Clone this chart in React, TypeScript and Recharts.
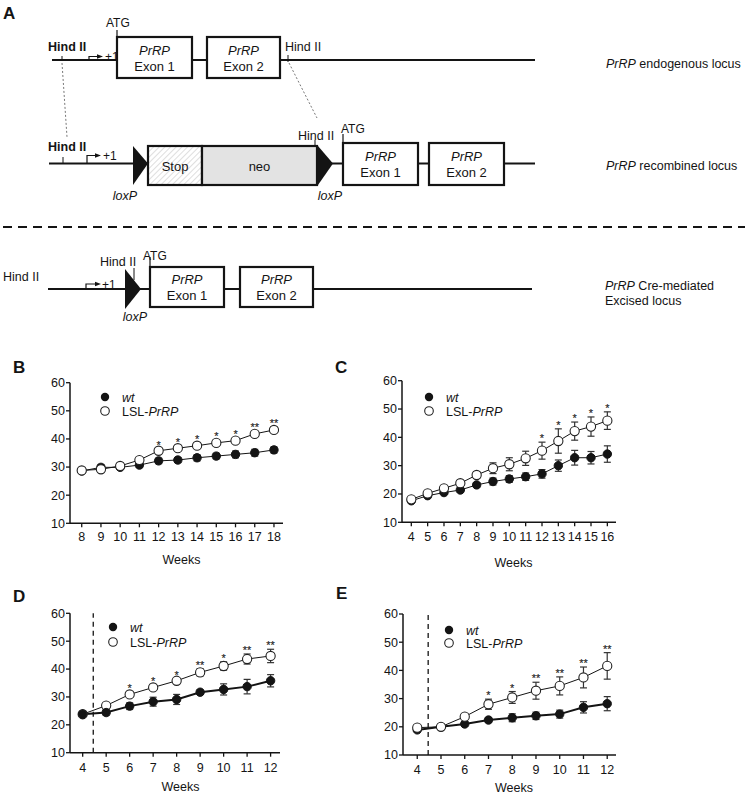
import React from "react"
import { LineChart, Line, XAxis, YAxis, ErrorBar, ReferenceLine, LabelList } from "recharts"

const FONT = "'Liberation Sans', Arial, Helvetica, sans-serif"
const INK = "#141414"

// B
const weeksB = [8, 9, 10, 11, 12, 13, 14, 15, 16, 17, 18]
const wtB = [28.6, 29.9, 29.9, 30.7, 32.2, 32.5, 33.3, 33.9, 34.5, 35.1, 36.1]
const wtErrB = [0.6, 1.0, 0.7, 0.9, 1.0, 0.9, 1.1, 1.0, 1.2, 1.2, 1.1]
const lslB = [28.8, 29.2, 30.4, 32.5, 35.8, 36.7, 37.6, 38.6, 39.4, 41.8, 43.2]
const lslErrB = [0.5, 0.6, 0.6, 0.7, 0.8, 0.8, 0.9, 1.0, 0.9, 0.9, 0.9]
const sigB = ["", "", "", "", "*", "*", "*", "*", "*", "**", "**"]

// C
const weeksC = [4, 5, 6, 7, 8, 9, 10, 11, 12, 13, 14, 15, 16]
const wtC = [17.6, 19.4, 20.5, 21.4, 23.2, 24.4, 25.3, 26.1, 27.1, 30.0, 32.8, 32.8, 34.1]
const wtErrC = [0.5, 0.6, 0.6, 0.7, 0.8, 1.2, 1.2, 1.3, 1.5, 2.0, 2.6, 2.2, 2.9]
const lslC = [18.1, 20.2, 22.0, 23.8, 26.7, 29.1, 30.5, 32.6, 35.3, 38.7, 42.2, 43.8, 45.9]
const lslErrC = [0.5, 0.6, 0.6, 0.8, 1.2, 1.9, 2.3, 2.5, 3.0, 4.3, 3.2, 3.4, 3.1]
const sigC = ["", "", "", "", "", "", "", "", "*", "*", "*", "*", "*"]

// D
const weeksD = [4, 5, 6, 7, 8, 9, 10, 11, 12]
const wtD = [23.8, 24.4, 26.7, 28.3, 29.1, 31.7, 32.7, 33.7, 35.8]
const wtErrD = [0.8, 1.0, 1.2, 1.6, 1.8, 0.8, 2.0, 2.6, 2.2]
const lslD = [23.8, 26.9, 30.9, 33.4, 35.8, 38.8, 41.1, 43.6, 44.7]
const lslErrD = [0.6, 0.7, 0.8, 0.8, 0.8, 1.3, 1.5, 1.8, 2.4]
const sigD = ["", "", "*", "*", "*", "**", "*", "**", "**"]

// E
const weeksE = [4, 5, 6, 7, 8, 9, 10, 11, 12]
const wtE = [18.9, 20.0, 21.0, 22.4, 23.2, 23.9, 24.5, 26.9, 28.2]
const wtErrE = [0.6, 0.6, 0.8, 0.9, 1.4, 1.3, 1.4, 2.0, 2.5]
const lslE = [19.7, 20.0, 23.6, 28.0, 30.4, 32.8, 34.5, 37.5, 41.6]
const lslErrE = [0.5, 0.5, 0.8, 1.8, 2.1, 3.0, 3.2, 3.7, 4.7]
const sigE = ["", "", "", "*", "*", "**", "**", "**", "**"]

const yTicks = [10, 20, 30, 40, 50, 60]

function buildRows(weeks: number[], wt: number[], wtErr: number[], lsl: number[], lslErr: number[], sig: string[]) {
  return weeks.map((w, i) => ({
    week: w,
    wt: wt[i],
    wtErr: wtErr[i],
    lsl: lsl[i],
    lslErr: lslErr[i],
    starAt: lsl[i] + lslErr[i],
    sig: sig[i],
  }))
}

// stroked text avoids the coloured subpixel fringes on such tiny glyphs
const renderStar = (props: any) => {
  const { x, y, value } = props
  if (!value) return null
  return (
    <text
      x={x}
      y={y}
      textAnchor="middle"
      fontSize={11}
      fontFamily={FONT}
      fill="#222"
      stroke="#222"
      strokeWidth={0.15}
    >
      {value}
    </text>
  )
}

type PanelProps = {
  left: number
  top: number
  width: number
  height: number
  margin: { top: number; right: number; bottom: number; left: number }
  xDomain: [number, number]
  rows: any[]
  xAxisHeight: number
  tickMargin: number
  weeksDx: number
  weeksDy: number
  cutoff?: number
  wtOnTop?: boolean
  wtWidth: number
}

function GrowthPanel(p: PanelProps) {
  const wtLine = (
    <Line
      key="wt"
      type="linear"
      dataKey="wt"
      stroke={INK}
      strokeWidth={p.wtWidth}
      dot={{ r: 4.2, fill: INK, stroke: INK, strokeWidth: 1 }}
      activeDot={false}
      isAnimationActive={false}
    >
      <ErrorBar dataKey="wtErr" width={3.5} stroke="#333" strokeWidth={1.2} direction="y" />
    </Line>
  )
  const lslLine = (
    <Line
      key="lsl"
      type="linear"
      dataKey="lsl"
      stroke={INK}
      strokeWidth={1}
      dot={{ r: 4.6, fill: "#fff", stroke: "#222", strokeWidth: 1.1 }}
      activeDot={false}
      isAnimationActive={false}
    >
      <ErrorBar dataKey="lslErr" width={3.5} stroke="#333" strokeWidth={1.2} direction="y" />
    </Line>
  )
  const xTicks = p.rows.map((r) => r.week)
  return (
    <div style={{ position: "absolute", left: p.left, top: p.top, width: p.width, height: p.height }}>
      <LineChart width={p.width} height={p.height} data={p.rows} margin={p.margin}>
        <XAxis
          dataKey="week"
          type="number"
          domain={p.xDomain}
          ticks={xTicks}
          interval={0}
          allowDataOverflow
          height={p.xAxisHeight}
          tickSize={4}
          tickMargin={p.tickMargin}
          axisLine={{ stroke: INK, strokeWidth: 1.5 }}
          tickLine={{ stroke: INK, strokeWidth: 1.3 }}
          tick={{ fill: INK, fontSize: 12.5, fontFamily: FONT }}
          label={(lp: any) => {
            const vb = lp.viewBox
            return (
              <text
                x={vb.x + vb.width / 2 + p.weeksDx}
                y={vb.y + p.weeksDy}
                textAnchor="middle"
                fontSize={12.5}
                fontFamily={FONT}
                fill={INK}
              >
                Weeks
              </text>
            )
          }}
        />
        <YAxis
          type="number"
          domain={[10, 60]}
          ticks={yTicks}
          interval={0}
          width={70}
          tickSize={4}
          tickMargin={1}
          axisLine={{ stroke: INK, strokeWidth: 1.5 }}
          tickLine={{ stroke: INK, strokeWidth: 1.3 }}
          tick={{ fill: INK, fontSize: 12.5, fontFamily: FONT }}
        />
        {p.cutoff !== undefined && (
          <ReferenceLine x={p.cutoff} stroke={INK} strokeWidth={1.3} strokeDasharray="5 4" />
        )}
        {p.wtOnTop ? lslLine : wtLine}
        {p.wtOnTop ? wtLine : lslLine}
        <Line
          type="linear"
          dataKey="starAt"
          stroke="none"
          dot={false}
          activeDot={false}
          legendType="none"
          isAnimationActive={false}
        >
          <LabelList dataKey="sig" content={renderStar} />
        </Line>
      </LineChart>
    </div>
  )
}

function LegendBlock({ cx, y1, y2 }: { cx: number; y1: number; y2: number }) {
  return (
    <g fontFamily={FONT} fontSize={12.5} fill={INK}>
      <circle cx={cx} cy={y1} r={4.2} fill={INK} />
      <text x={cx + 17} y={y1 + 4.5} fontStyle="italic">wt</text>
      <circle cx={cx} cy={y2} r={4.3} fill="#fff" stroke="#222" strokeWidth={1.1} />
      <text x={cx + 17} y={y2 + 4.5}>
        LSL-<tspan fontStyle="italic">PrRP</tspan>
      </text>
    </g>
  )
}

function ExonBox({ x, y, w, h, n }: { x: number; y: number; w: number; h: number; n: number }) {
  return (
    <g>
      <rect x={x} y={y} width={w} height={h} fill="#fff" stroke={INK} strokeWidth={2.2} />
      <text x={x + w / 2} y={y + h * 0.43} textAnchor="middle" fontStyle="italic" fontSize={13}>
        PrRP
      </text>
      <text x={x + w / 2} y={y + h * 0.82} textAnchor="middle" fontSize={13}>
        Exon {n}
      </text>
    </g>
  )
}

function Promoter({ x, y, top, end, labelX }: { x: number; y: number; top: number; end: number; labelX: number }) {
  return (
    <g>
      <path d={`M${x},${y} V${top} H${end - 3}`} fill="none" stroke={INK} strokeWidth={1.2} />
      <polygon points={`${end - 5},${top - 2.2} ${end + 1},${top} ${end - 5},${top + 2.2}`} fill={INK} />
      <text x={labelX} y={top + 4.5} fontSize={12}>
        +1
      </text>
    </g>
  )
}

function SchemeA() {
  const line = { stroke: INK, strokeWidth: 2 }
  return (
    <svg width={747} height={340} style={{ position: "absolute", left: 0, top: 0 }} fontFamily={FONT} fill={INK}>
      <defs>
        <pattern id="hatch" width="4" height="4" patternUnits="userSpaceOnUse" patternTransform="rotate(45)">
          <rect width="4" height="4" fill="#fff" />
          <line x1="0" y1="0" x2="0" y2="4" stroke="#c8c8c8" strokeWidth="1.2" />
        </pattern>
      </defs>
      <text x={3} y={18.5} fontSize={17} fontWeight="bold">A</text>

      {/* row 1: endogenous */}
      <line x1={52} y1={60} x2={535} y2={60} {...line} />
      <text x={48} y={51} fontSize={12.5} fontWeight="bold">Hind II</text>
      <line x1={62} y1={56} x2={62} y2={61} stroke={INK} strokeWidth={1} />
      <Promoter x={89} y={60} top={56.5} end={102} labelX={105} />
      <text x={106} y={27} fontSize={12}>ATG</text>
      <line x1={117} y1={30} x2={117} y2={38} stroke={INK} strokeWidth={1.2} />
      <ExonBox x={117} y={37} w={75} h={41} n={1} />
      <ExonBox x={207} y={37} w={73} h={41} n={2} />
      <text x={285} y={51} fontSize={12.5}>Hind II</text>
      <line x1={288} y1={55} x2={288} y2={62} stroke={INK} strokeWidth={1} />
      <text x={606} y={67.5} fontSize={12.5}>
        <tspan fontStyle="italic">PrRP</tspan> endogenous locus
      </text>

      {/* dotted guides */}
      <line x1={62} y1={63} x2={67} y2={137} stroke="#555" strokeWidth={0.8} strokeDasharray="2 2" />
      <line x1={289} y1={63} x2={317} y2={118} stroke="#555" strokeWidth={0.8} strokeDasharray="2 2" />

      {/* row 2: recombined */}
      <line x1={49} y1={163.5} x2={535} y2={163.5} {...line} />
      <text x={48} y={151} fontSize={12.5} fontWeight="bold">Hind II</text>
      <line x1={63} y1={157} x2={63} y2={164} stroke={INK} strokeWidth={1} />
      <Promoter x={87} y={163.5} top={155.5} end={100} labelX={103} />
      <polygon points="133,146 148,163.5 133,185" fill={INK} />
      <rect x={148} y={146} width={54} height={39} fill="url(#hatch)" stroke={INK} strokeWidth={2.2} />
      <rect x={202} y={146} width={115} height={39} fill="#e3e3e3" stroke={INK} strokeWidth={2.2} />
      <text x={175} y={171} textAnchor="middle" fontSize={13}>Stop</text>
      <text x={259.5} y={171} textAnchor="middle" fontSize={13}>neo</text>
      <polygon points="318,146 333,163.5 318,185" fill={INK} />
      <text x={298} y={139.5} fontSize={12.5}>Hind II</text>
      <line x1={315} y1={140} x2={315} y2={147} stroke={INK} strokeWidth={1} />
      <text x={341} y={132.5} fontSize={12}>ATG</text>
      <line x1={343} y1={134} x2={343} y2={144} stroke={INK} strokeWidth={1.2} />
      <ExonBox x={343} y={143} w={75} h={42} n={1} />
      <ExonBox x={429} y={143} w={75} h={42} n={2} />
      <text x={125} y={199.5} textAnchor="middle" fontSize={12.5} fontStyle="italic">loxP</text>
      <text x={330} y={199.5} textAnchor="middle" fontSize={12.5} fontStyle="italic">loxP</text>
      <text x={606} y={169.5} fontSize={12.5}>
        <tspan fontStyle="italic">PrRP</tspan> recombined locus
      </text>

      {/* separator */}
      <line x1={3} y1={227} x2={745} y2={227} stroke={INK} strokeWidth={1.8} strokeDasharray="9 6" />

      {/* row 3: excised */}
      <line x1={48} y1={289} x2={532} y2={289} {...line} />
      <text x={3} y={280.5} fontSize={12.5}>Hind II</text>
      <Promoter x={86} y={289} top={284} end={100} labelX={102} />
      <text x={100} y={266} fontSize={12.5}>Hind II</text>
      <line x1={134} y1={268} x2={134} y2={280} stroke={INK} strokeWidth={1} />
      <polygon points="125,269 141,289 125,309" fill={INK} />
      <text x={143} y={260} fontSize={12}>ATG</text>
      <line x1={150} y1={257} x2={150} y2={268} stroke={INK} strokeWidth={1.2} />
      <ExonBox x={150} y={267} w={74} h={40} n={1} />
      <ExonBox x={240} y={267} w={73} h={40} n={2} />
      <text x={135} y={320.5} textAnchor="middle" fontSize={12.5} fontStyle="italic">loxP</text>
      <text x={605} y={289.5} fontSize={12.5}>
        <tspan fontStyle="italic">PrRP</tspan>{"  Cre-mediated"}
      </text>
      <text x={605} y={304.5} fontSize={12.5}>Excised locus</text>
    </svg>
  )
}

export default function App() {
  const rowsB = buildRows(weeksB, wtB, wtErrB, lslB, lslErrB, sigB)
  const rowsC = buildRows(weeksC, wtC, wtErrC, lslC, lslErrC, sigC)
  const rowsD = buildRows(weeksD, wtD, wtErrD, lslD, lslErrD, sigD)
  const rowsE = buildRows(weeksE, wtE, wtErrE, lslE, lslErrE, sigE)

  return (
    <div
      style={{
        position: "absolute",
        left: 0,
        top: 0,
        width: 747,
        height: 795,
        background: "#fff",
        fontFamily: FONT,
        overflow: "hidden",
      }}
    >
      <SchemeA />

      <GrowthPanel
        left={0}
        top={370}
        width={300}
        height={200}
        margin={{ top: 12.7, right: 17, bottom: 0, left: 0 }}
        xDomain={[7.39, 18.47]}
        rows={rowsB}
        xAxisHeight={46.7}
        tickMargin={5}
        weeksDx={5}
        weeksDy={40.2}
        wtWidth={1}
      />
      <GrowthPanel
        left={332}
        top={370}
        width={300}
        height={200}
        margin={{ top: 10.7, right: 16, bottom: 0, left: 0 }}
        xDomain={[3.43, 16.53]}
        rows={rowsC}
        xAxisHeight={47.7}
        tickMargin={6}
        weeksDx={4.5}
        weeksDy={44.9}
        wtWidth={1}
      />
      <GrowthPanel
        left={0}
        top={600}
        width={300}
        height={195}
        margin={{ top: 13.3, right: 20, bottom: 0, left: 0 }}
        xDomain={[3.46, 12.4]}
        rows={rowsD}
        xAxisHeight={42.3}
        tickMargin={6}
        weeksDx={5.5}
        weeksDy={38.5}
        cutoff={4.45}
        wtOnTop
        wtWidth={2}
      />
      <GrowthPanel
        left={333}
        top={600}
        width={300}
        height={195}
        margin={{ top: 14, right: 17, bottom: 0, left: 0 }}
        xDomain={[3.4, 12.37]}
        rows={rowsE}
        xAxisHeight={40}
        tickMargin={6}
        weeksDx={4.5}
        weeksDy={36.5}
        cutoff={4.46}
        wtWidth={2}
      />

      <svg
        width={747}
        height={795}
        style={{ position: "absolute", left: 0, top: 0, pointerEvents: "none" }}
        fontFamily={FONT}
        fill={INK}
      >
        <text x={13} y={373} fontSize={17} fontWeight="bold">B</text>
        <text x={335} y={373} fontSize={17} fontWeight="bold">C</text>
        <text x={13} y={602} fontSize={17} fontWeight="bold">D</text>
        <text x={336} y={599} fontSize={17} fontWeight="bold">E</text>
        <LegendBlock cx={105} y1={397} y2={411} />
        <LegendBlock cx={429} y1={397} y2={411} />
        <LegendBlock cx={113} y1={627} y2={642} />
        <LegendBlock cx={449} y1={630} y2={643} />
      </svg>
    </div>
  )
}
